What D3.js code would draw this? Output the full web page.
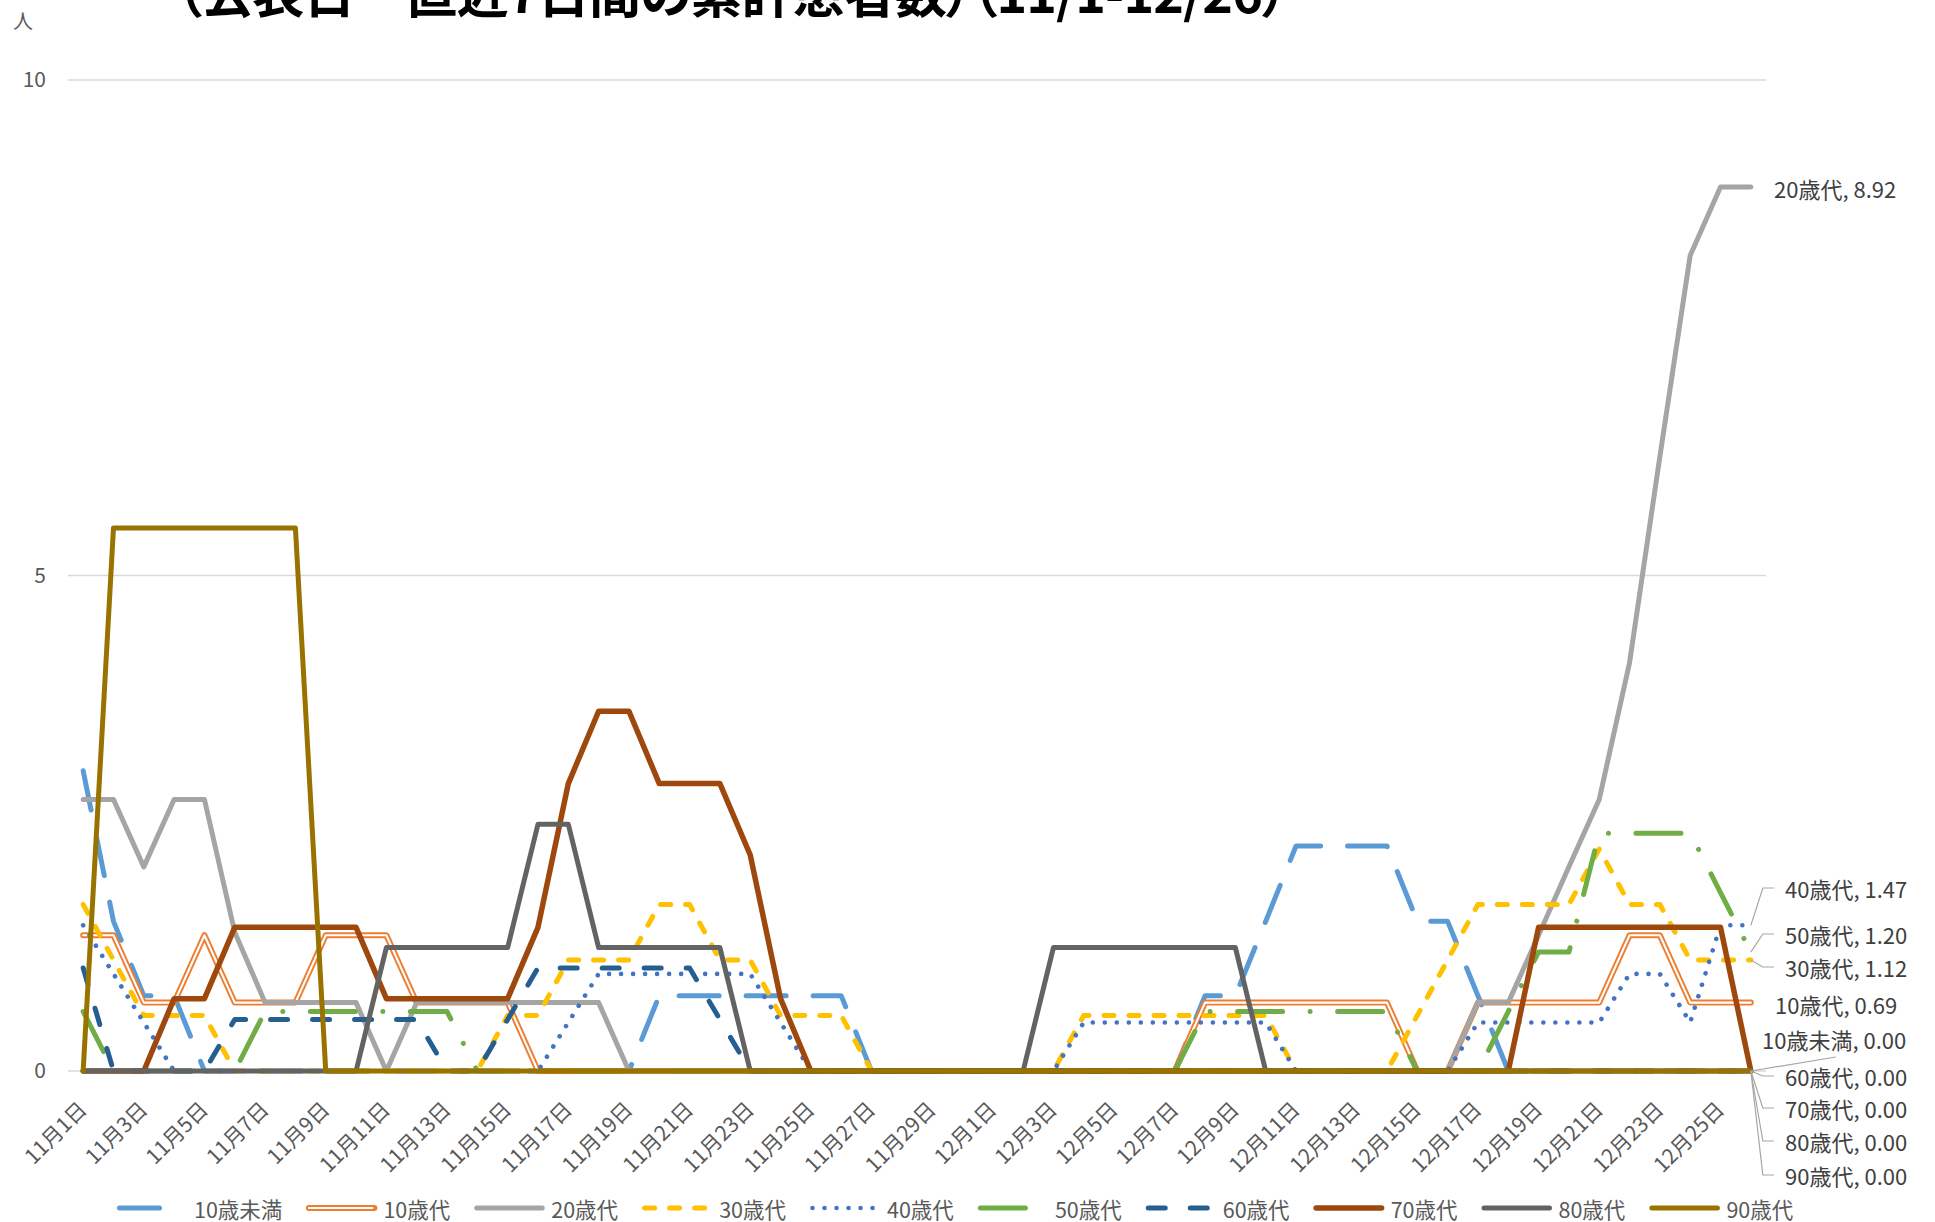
<!DOCTYPE html>
<html><head><meta charset="utf-8">
<script src="https://cdn.jsdelivr.net/npm/d3@7"></script>
<style>
html,body{margin:0;padding:0;background:#fff;}
svg text{font-family:"Noto Sans CJK JP","Noto Sans",sans-serif;}
</style></head><body>
<svg id="chart" width="1935" height="1222"></svg>
<script>
// ---------- DATA ----------
const categories = [
 "11月1日","11月2日","11月3日","11月4日","11月5日","11月6日","11月7日","11月8日","11月9日","11月10日",
 "11月11日","11月12日","11月13日","11月14日","11月15日","11月16日","11月17日","11月18日","11月19日","11月20日",
 "11月21日","11月22日","11月23日","11月24日","11月25日","11月26日","11月27日","11月28日","11月29日","11月30日",
 "12月1日","12月2日","12月3日","12月4日","12月5日","12月6日","12月7日","12月8日","12月9日","12月10日",
 "12月11日","12月12日","12月13日","12月14日","12月15日","12月16日","12月17日","12月18日","12月19日","12月20日",
 "12月21日","12月22日","12月23日","12月24日","12月25日","12月26日"];

const seriesNames = ["10歳未満","10歳代","20歳代","30歳代","40歳代","50歳代","60歳代","70歳代","80歳代","90歳代"];

const under10 = [3.03,1.51,0.76,0.76,0,0,0,0,0,0,0,0,0,0,0,0,0,0,0,0.76,0.76,0.76,0.76,0.76,0.76,0.76,0,0,0,0,0,0,0,0,0,0,0,0.76,0.76,1.51,2.27,2.27,2.27,2.27,1.51,1.51,0.76,0,0,0,0,0,0,0,0,0];
const age10s = [1.37,1.37,0.69,0.69,1.37,0.69,0.69,0.69,1.37,1.37,1.37,0.69,0.69,0.69,0.69,0,0,0,0,0,0,0,0,0,0,0,0,0,0,0,0,0,0,0,0,0,0,0.69,0.69,0.69,0.69,0.69,0.69,0.69,0,0,0.69,0.69,0.69,0.69,0.69,1.37,1.37,0.69,0.69,0.69];
const age20s = [2.74,2.74,2.06,2.74,2.74,1.40,0.69,0.69,0.69,0.69,0,0.69,0.69,0.69,0.69,0.69,0.69,0.69,0,0,0,0,0,0,0,0,0,0,0,0,0,0,0,0,0,0,0,0,0,0,0,0,0,0,0,0,0.69,0.69,1.37,2.06,2.74,4.12,6.20,8.23,8.92,8.92];
const age30s = [1.68,1.12,0.56,0.56,0.56,0,0,0,0,0,0,0,0,0,0.56,0.56,1.12,1.12,1.12,1.68,1.68,1.12,1.12,0.56,0.56,0.56,0,0,0,0,0,0,0,0.56,0.56,0.56,0.56,0.56,0.56,0.56,0,0,0,0,0.56,1.12,1.68,1.68,1.68,1.68,2.24,1.68,1.68,1.12,1.12,1.12];
const age40s = [1.47,0.98,0.49,0,0,0,0,0,0,0,0,0,0,0,0,0,0.49,0.98,0.98,0.98,0.98,0.98,0.98,0.49,0,0,0,0,0,0,0,0,0,0.49,0.49,0.49,0.49,0.49,0.49,0.49,0,0,0,0,0,0,0.49,0.49,0.49,0.49,0.49,0.98,0.98,0.49,1.47,1.47];
const age50s = [0.60,0,0,0,0,0,0.60,0.60,0.60,0.60,0.60,0.60,0.60,0,0,0,0,0,0,0,0,0,0,0,0,0,0,0,0,0,0,0,0,0,0,0,0,0.60,0.60,0.60,0.60,0.60,0.60,0.60,0,0,0,0.60,1.20,1.20,2.40,2.40,2.40,2.40,1.80,1.20];
const age60s = [1.04,0,0,0,0,0.52,0.52,0.52,0.52,0.52,0.52,0.52,0,0,0.52,1.04,1.04,1.04,1.04,1.04,1.04,0.52,0,0,0,0,0,0,0,0,0,0,0,0,0,0,0,0,0,0,0,0,0,0,0,0,0,0,0,0,0,0,0,0,0,0];
const age70s = [0,0,0,0.73,0.73,1.45,1.45,1.45,1.45,1.45,0.73,0.73,0.73,0.73,0.73,1.45,2.90,3.63,3.63,2.90,2.90,2.90,2.18,0.73,0,0,0,0,0,0,0,0,0,0,0,0,0,0,0,0,0,0,0,0,0,0,0,0,1.45,1.45,1.45,1.45,1.45,1.45,1.45,0];
const age80s = [0,0,0,0,0,0,0,0,0,0,1.245,1.245,1.245,1.245,1.245,2.49,2.49,1.245,1.245,1.245,1.245,1.245,0,0,0,0,0,0,0,0,0,0,1.245,1.245,1.245,1.245,1.245,1.245,1.245,0,0,0,0,0,0,0,0,0,0,0,0,0,0,0,0,0];
const age90s = [0,5.48,5.48,5.48,5.48,5.48,5.48,5.48,0,0,0,0,0,0,0,0,0,0,0,0,0,0,0,0,0,0,0,0,0,0,0,0,0,0,0,0,0,0,0,0,0,0,0,0,0,0,0,0,0,0,0,0,0,0,0,0];

const seriesValues = [under10, age10s, age20s, age30s, age40s, age50s, age60s, age70s, age80s, age90s];
const yTicks = [0, 5, 10];
const titleText = "（公表日　直近7日間の累計患者数）（11/1-12/26）";
const unitText = "人";

// ---------- STYLE ----------
const styles = [
  {color:"#5B9BD5", width:5, dash:"40,27"},
  {color:"#ED7D31", width:6, dash:null, double:true},
  {color:"#A5A5A5", width:5, dash:null},
  {color:"#FFC000", width:5, dash:"10,15"},
  {color:"#4472C4", width:4.6, dash:"0.01,12"},
  {color:"#70AD47", width:5, dash:"45,27.5,0.01,27.5"},
  {color:"#255E91", width:5, dash:"17,25"},
  {color:"#9E480E", width:5.5, dash:null},
  {color:"#636363", width:5, dash:null},
  {color:"#997300", width:5, dash:null}
];
// data label layout (series index, text x, text y, leader type)
const labelLayout = [
 {s:2, x:1774, y:188, leader:"none"},
 {s:4, x:1785, y:888, leader:"elbow"},
 {s:5, x:1785, y:934, leader:"elbow"},
 {s:3, x:1785, y:967, leader:"elbow"},
 {s:1, x:1775, y:1004, leader:"none"},
 {s:0, x:1762, y:1039, leader:"below"},
 {s:6, x:1785, y:1076, leader:"elbow"},
 {s:7, x:1785, y:1108, leader:"elbow"},
 {s:8, x:1785, y:1141, leader:"elbow"},
 {s:9, x:1785, y:1175, leader:"elbow"}
];

const svg = d3.select("#chart");
const plot = {left:68, right:1766, top:80, bottom:1071};

const x = d3.scaleBand().domain(categories).range([plot.left, plot.right]).paddingInner(0).paddingOuter(0);
const y = d3.scaleLinear().domain([0, 10]).range([plot.bottom, plot.top]);
const cx = c => x(c) + x.bandwidth()/2;

// title (mostly cut off at the top, as in the reference)
svg.append("text")
  .attr("x", 176).attr("y", 13)
  .attr("font-size", 52).attr("font-weight", "bold").attr("fill", "#000")
  .attr("textLength", 1112).attr("lengthAdjust", "spacing")
  .style("font-feature-settings", '"palt" 1')
  .text(titleText);

// unit label
svg.append("text").attr("x", 23).attr("y", 20).attr("text-anchor", "middle")
  .attr("dominant-baseline", "central").attr("font-size", 20).attr("fill", "#595959").text(unitText);

// gridlines
svg.append("g").selectAll("line").data(yTicks).join("line")
  .attr("x1", plot.left).attr("x2", plot.right)
  .attr("y1", d => y(d)).attr("y2", d => y(d))
  .attr("stroke", "#D9D9D9").attr("stroke-width", 1.5);

// y axis labels
const yAxis = d3.axisLeft(y).tickValues(yTicks).tickSize(0).tickPadding(0).tickFormat(d3.format("d"));
const yg = svg.append("g").attr("transform", `translate(46,0)`).call(yAxis);
yg.select(".domain").remove();
yg.selectAll("text").attr("font-size", 21).attr("fill", "#595959")
  .style("font-family", '"Noto Sans CJK JP","Noto Sans",sans-serif');

// x axis labels (every other day)
const xAxis = d3.axisBottom(x).tickValues(categories.filter((c,i) => i % 2 === 0)).tickSize(0);
const xg = svg.append("g").attr("transform", `translate(0,${plot.bottom})`).call(xAxis);
xg.select(".domain").remove();
xg.selectAll(".tick text")
  .attr("font-size", 21).attr("fill", "#595959")
  .style("font-family", '"Noto Sans CJK JP","Noto Sans",sans-serif')
  .attr("text-anchor", "end").attr("dy", null).attr("y", null)
  .attr("transform", "translate(5,40) rotate(-45)");

// lines
const line = d3.line().x((d,i) => cx(categories[i])).y(d => y(d));
const lg = svg.append("g");
seriesValues.forEach((vals, k) => {
  const st = styles[k];
  const g = lg.append("g");
  const p = g.append("path").datum(vals).attr("d", line)
    .attr("fill", "none").attr("stroke", st.color).attr("stroke-width", st.width)
    .attr("stroke-linejoin", "round").attr("stroke-linecap", "round");
  if (st.dash) p.attr("stroke-dasharray", st.dash);
  if (st.double) {
    g.append("path").datum(vals).attr("d", line)
      .attr("fill", "none").attr("stroke", "#fff").attr("stroke-width", 2.1)
      .attr("stroke-linejoin", "round").attr("stroke-linecap", "round");
  }
});

// data labels with leader lines
const last = categories.length - 1;
const lbl = svg.append("g");
labelLayout.forEach(L => {
  const v = seriesValues[L.s][last];
  const px = cx(categories[last]), py = y(v);
  if (L.leader === "elbow") {
    lbl.append("polyline").attr("points", `${px},${py} ${px+12},${L.y} ${px+23},${L.y}`)
      .attr("fill", "none").attr("stroke", "#A6A6A6").attr("stroke-width", 1.2);
  } else if (L.leader === "below") {
    lbl.append("line").attr("x1", px).attr("y1", py).attr("x2", px+85).attr("y2", L.y+18)
      .attr("stroke", "#A6A6A6").attr("stroke-width", 1.2);
  }
  lbl.append("text").attr("x", L.x).attr("y", L.y).attr("dominant-baseline", "central")
    .attr("font-size", 22).attr("fill", "#404040")
    .text(`${seriesNames[L.s]}, ${v.toFixed(2)}`);
});

// legend
const leg = svg.append("g").attr("transform", "translate(0,1208)");
let lx = 117;
seriesNames.forEach((name, k) => {
  const st = styles[k];
  const g = leg.append("g");
  const sl = g.append("line").attr("x1", lx+2.5).attr("x2", lx+68).attr("y1", 0).attr("y2", 0)
    .attr("stroke", st.color).attr("stroke-width", st.width).attr("stroke-linecap", "round");
  if (st.dash) sl.attr("stroke-dasharray", st.dash);
  if (st.double) g.append("line").attr("x1", lx+2.5).attr("x2", lx+66).attr("y1", 0).attr("y2", 0)
    .attr("stroke", "#fff").attr("stroke-width", 2.1).attr("stroke-linecap", "round");
  const t = g.append("text").attr("x", lx+77).attr("y", 0).attr("dominant-baseline", "central")
    .attr("font-size", 21.5).attr("fill", "#595959").text(name);
  const w = t.node().getComputedTextLength();
  lx = lx + 77 + w + 24;
});
</script>
</body></html>
